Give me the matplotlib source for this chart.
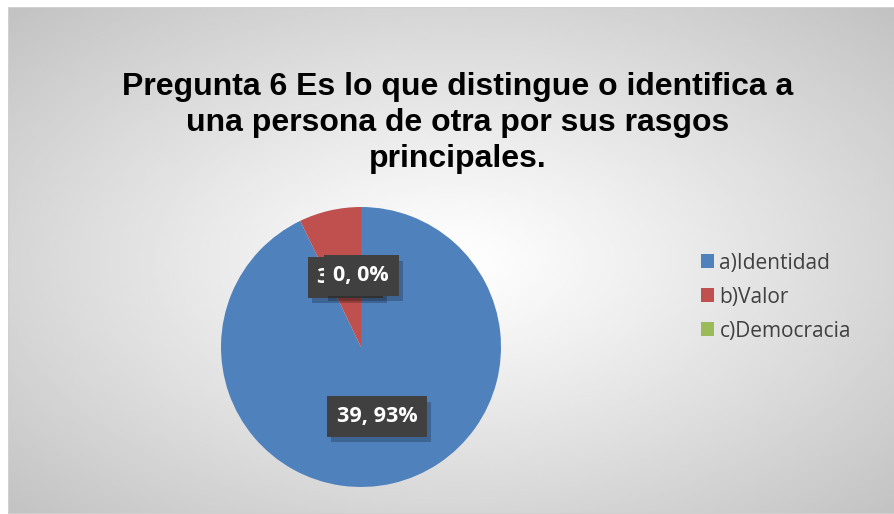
import numpy as np
import matplotlib.pyplot as plt
import matplotlib.patheffects as pe
from matplotlib.patches import Rectangle

title = "Pregunta 6 Es lo que distingue o identifica a\nuna persona de otra por sus rasgos\nprincipales."
categories = ["a)Identidad", "b)Valor", "c)Democracia"]
counts = [39, 3, 0]
percents = [93, 7, 0]
colors = ["#4f81bd", "#c0504d", "#9bbb59"]

W, H = 895, 514
fig = plt.figure(figsize=(W / 100, H / 100), dpi=100)
fig.patch.set_facecolor("white")

# chart area with radial grey gradient
bg = fig.add_axes([8 / W, 0, 1 - 8 / W, 1 - 7 / H])
yy, xx = np.mgrid[0:200, 0:300]
r = np.hypot((xx - 150) / 150, (yy - 100) / 100) / np.sqrt(2)
shade = 1.0 - 0.24 * np.clip(r, 0, 1) ** 1.1
bg.imshow(shade, cmap="gray", vmin=0, vmax=1, aspect="auto", extent=[0, 1, 0, 1])
bg.add_patch(Rectangle((0, 0), 1, 1, transform=bg.transAxes, fill=False,
                       edgecolor="#d0d0d0", lw=1.5))
bg.set_axis_off()

fig.text(458 / W, 1 - 123 / H, title, ha="center", va="center",
         fontsize=23, fontweight="bold", family="Liberation Sans",
         linespacing=1.25)

cx, cy, rad = 361, 347, 140
ax = fig.add_axes([(cx - rad) / W, (H - cy - rad) / H, 2 * rad / W, 2 * rad / H])
wedges, _ = ax.pie(counts, colors=colors, startangle=90, counterclock=False,
                   wedgeprops=dict(linewidth=0))
ax.set_xlim(-1, 1)
ax.set_ylim(-1, 1)
ax.set_aspect("equal")
ax.set_axis_off()

for w, n, p in zip(wedges, counts, percents):
    mid = np.deg2rad((w.theta1 + w.theta2) / 2)
    t = ax.text(0.51 * np.cos(mid), 0.51 * np.sin(mid), f"{n}, {p}%",
                ha="center", va="center", color="white", fontsize=15.5,
                fontweight="bold", family="Open Sans",
                bbox=dict(boxstyle="square,pad=0.45", facecolor="#404040",
                          edgecolor="none"))
    t.get_bbox_patch().set_path_effects(
        [pe.SimplePatchShadow(offset=(3, -4), shadow_rgbFace="black", alpha=0.22), pe.Normal()])

leg = fig.legend(wedges, categories, loc="upper left", bbox_to_anchor=(682 / W, 1 - 234 / H),
                 frameon=False, handlelength=0.65, handleheight=0.65,
                 handletextpad=0.25, labelspacing=0.62, prop={"family": "Open Sans", "size": 15})
for txt in leg.get_texts():
    txt.set_color("#404040")

fig.savefig("out.png", dpi=100)
